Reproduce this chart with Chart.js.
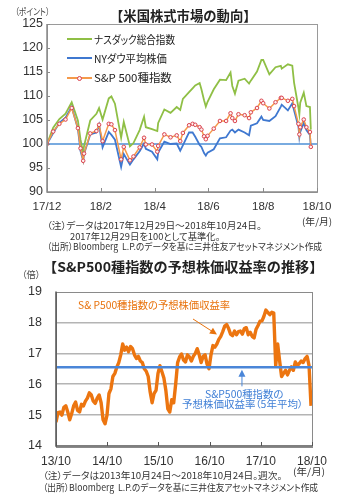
<!DOCTYPE html>
<html><head><meta charset="utf-8">
<script src="https://cdn.jsdelivr.net/npm/chart.js@4.4.1/dist/chart.umd.min.js"></script>
<style>
body{margin:0;background:#fff;}
#wrap{position:relative;width:351px;height:499px;overflow:hidden;font-family:"Noto Sans CJK JP","Noto Sans",sans-serif;}
.t{position:absolute;white-space:nowrap;line-height:1;font-feature-settings:"palt";transform-origin:0 50%;}
.k{position:absolute;}
canvas{position:absolute;left:0;}
</style></head><body><div id="wrap">
<canvas id="c1" width="351" height="215" style="top:0px"></canvas>
<canvas id="c2" width="351" height="200" style="top:270px"></canvas>

<div class="t" data-x="15" data-cy="11.7" data-w="35" style="font-size:9.5px;color:#444">（ポイント）</div>
<div class="t" data-x="110" data-cy="16" data-w="147" style="font-size:13.5px;font-weight:bold;color:#222;font-feature-settings:normal">【米国株式市場の動向】</div>

<div class="k" style="left:67px;top:38px;width:25px;height:2px;background:#8fbf45"></div>
<div class="k" style="left:67px;top:57px;width:25px;height:2px;background:#3f78d0"></div>
<div class="k" style="left:67px;top:77px;width:25px;height:2px;background:#f59a4a"></div>
<div class="k" style="left:77px;top:75.5px;width:3px;height:3px;border:1px solid #d9434f;border-radius:50%;background:#fff0ee"></div>
<div class="t" data-x="94" data-cy="39" data-w="81" style="font-size:11px;color:#222">ナスダック総合指数</div>
<div class="t" data-x="94" data-cy="58" data-w="73" style="font-size:11px;color:#222">NYダウ平均株価</div>
<div class="t" data-x="94" data-cy="77.7" data-w="78" style="font-size:11px;color:#222">S&amp;P 500種指数</div>

<div class="t" data-x="302" data-cy="221.7" data-w="30" style="font-size:9.5px;color:#333">(年/月)</div>
<div class="t" data-x="46.7" data-cy="226" data-w="215" style="font-size:9.5px;color:#333">（注）データは2017年12月29日～2018年10月24日。</div>
<div class="t" data-x="70" data-cy="236.7" data-w="150" style="font-size:9.5px;color:#333">2017年12月29日を100として基準化。</div>
<div class="t" data-x="46.7" data-cy="247.3" data-w="275" style="font-size:9.5px;color:#333">（出所）Bloomberg&nbsp;&nbsp;L.P.のデータを基に三井住友アセットマネジメント作成</div>

<div class="t" data-x="43.3" data-cy="266.7" data-w="280" style="font-size:13.5px;font-weight:bold;color:#222;font-feature-settings:normal">【S&amp;P500種指数の予想株価収益率の推移】</div>
<div class="t" data-x="21.7" data-cy="275" data-w="18.3" style="font-size:9.5px;color:#444">（倍）</div>
<div class="t" data-x="78.3" data-cy="305" data-w="152" style="font-size:10.5px;color:#e8720c">S&amp; P500種指数の予想株価収益率</div>
<div class="t" data-x="205" data-cy="394" data-w="78" style="font-size:10px;color:#3f7fd6">S&amp;P500種指数の</div>
<div class="t" data-x="181.7" data-cy="404.3" data-w="121.6" style="font-size:10px;color:#3f7fd6">予想株価収益率（5年平均）</div>

<div class="t" data-x="293" data-cy="472.3" data-w="32" style="font-size:9.5px;color:#333">(年/月)</div>
<div class="t" data-x="43" data-cy="476" data-w="239" style="font-size:9.5px;color:#333">（注）データは2013年10月24日～2018年10月24日。週次。</div>
<div class="t" data-x="43" data-cy="488.3" data-w="275" style="font-size:9.5px;color:#333">（出所）Bloomberg&nbsp;&nbsp;L.P.のデータを基に三井住友アセットマネジメント作成</div>
</div>
<script>
// ---------- Top chart data (days since 2017/12/29, index 2017/12/29 = 100) ----------
const days = [0,7,14,21,28,35,38,41,42,49,56,59,63,70,73,77,84,87,94,98,105,110,112,119,125,126,133,140,147,151,154,161,165,168,173,175,178,180,182,189,196,203,208,210,213,217,224,229,231,238,243,245,252,259,265,266,273,278,280,285,286,287,291,294,298,299];
const nasdaq = [100,103.4,105.2,106.3,108.7,104.9,100.9,98.2,99.6,104.9,106.3,107.5,105.1,109.5,109.9,108.4,101.3,104.6,99.5,100.2,102.9,105.7,103.5,103.1,102.7,104.4,107.2,106.5,107.7,107.1,109.4,110.8,111.6,112.2,112.7,111.4,109.1,107.8,108.8,111.4,113.4,113.3,114.9,112.1,110.5,113.2,113.6,112.6,113.2,115.1,117.5,117.5,114.5,116.0,116.3,115.7,116.6,116.3,112.8,107.5,106.2,108.6,110.7,107.9,107.7,103.0];
const dow = [100,102.3,104.4,105.5,107.7,103.2,98.5,96.5,97.9,102.0,102.4,104.0,99.3,102.5,101.9,100.9,95.2,97.9,95.7,96.8,98.5,100.1,99.0,98.4,96.8,98.2,100.5,100.0,100.1,98.6,99.7,102.4,102.4,101.5,99.8,99.4,98.1,97.6,98.2,98.9,101.2,101.4,102.8,103.0,102.4,103.0,102.4,101.8,103.8,104.3,105.7,105.0,104.8,105.8,107.8,108.2,107.0,108.5,107.0,103.6,101.4,102.5,104.4,102.9,101.9,99.4];
const sp500 = [100,102.6,104.2,105.1,107.5,103.3,99.1,96.5,98.0,102.2,102.7,104.0,100.6,104.2,104.1,102.9,96.8,99.4,96.6,97.4,99.3,101.3,99.9,99.9,98.4,99.6,102.0,101.4,101.8,100.6,102.3,103.9,104.2,104.0,103.5,103.0,101.6,101.0,101.7,103.2,104.8,104.8,106.4,105.4,104.8,106.2,106.0,105.4,106.6,107.5,109.0,108.5,107.4,108.7,109.6,109.6,109.0,109.4,107.9,104.2,102.0,103.5,105.1,103.5,102.5,99.4];
const baseLevel = 100;
const topTickDays = [0,61,122,183,245,306];
const topTickLabels = ['17/12','18/2','18/4','18/6','18/8','18/10'];

// ---------- Bottom chart data (forward P/E, every 2 weeks from 2013/10/24) ----------
const peStepWeeks = 2;
const peValues = [
14.77,15.08,15.1,15.0,15.25,15.3,15.1,14.85,15.05,15.3,
15.42,15.15,15.1,15.35,15.3,15.45,15.55,15.72,15.65,15.45,
15.38,15.55,15.65,15.4,14.85,14.72,15.0,15.7,15.85,16.25,
16.35,16.55,16.7,16.95,17.3,17.1,17.2,17.05,17.22,17.15,
16.95,16.83,16.9,16.75,16.7,16.5,16.42,16.25,15.75,15.4,
15.7,15.8,16.35,16.6,16.4,16.2,15.8,15.2,15.1,15.5,
15.4,16.0,16.7,16.88,16.98,16.78,16.72,16.95,16.88,16.75,
16.9,17.0,17.15,16.95,16.7,16.9,16.95,16.65,16.5,16.95,
17.25,17.2,17.3,17.45,17.55,17.7,17.88,17.93,17.8,17.62,
17.57,17.72,17.6,17.7,17.72,17.62,17.8,17.83,17.6,17.68,
17.55,17.5,17.78,17.9,18.04,18.05,18.2,18.4,18.32,18.25,
18.33,18.3,16.6,17.3,16.75,16.25,16.35,16.45,16.3,16.45,
16.56,16.45,16.72,16.6,16.67,16.75,16.7,16.83,16.9,16.6,
15.3];
const peAvg5y = 16.55;
const peTotalWeeks = 261;
const botTickWeeks = [0,52.2,104.4,156.6,208.8,261];
const botTickLabels = ['13/10','14/10','15/10','16/10','17/10','18/10'];
// annotation arrows in data coordinates [week, P/E]
const peArrows = [
  {from:[139.7,18.11], to:[164.1,17.61], color:'#e8720c'},
  {from:[189.6,15.93], to:[189.6,16.47], color:'#4a86d8'}
];

const tickFont = {family:"'Liberation Sans', Arial, sans-serif", size:12};

const framePlugin = {
  id:'frame',
  afterDatasetsDraw(chart, args, o){
    const {ctx, chartArea:a, scales} = chart;
    ctx.save();
    ctx.strokeStyle = o.color; ctx.lineWidth = 1;
    ctx.strokeRect(Math.round(a.left)+0.5, Math.round(a.top)+0.5, Math.round(a.right-a.left), Math.round(a.bottom-a.top));
    ctx.strokeStyle = o.axisColor; ctx.lineWidth = 1.5;
    ctx.beginPath();
    ctx.moveTo(a.left, a.top); ctx.lineTo(a.left, a.bottom); ctx.lineTo(a.right, a.bottom);
    ctx.stroke();
    ctx.lineWidth = 1;
    if (o.xTicks) {
      scales.x.ticks.forEach(t => {
        const x = Math.round(scales.x.getPixelForValue(t.value))+0.5;
        ctx.beginPath(); ctx.moveTo(x, a.bottom); ctx.lineTo(x, a.bottom-4); ctx.stroke();
      });
    }
    if (o.yTicks) {
      scales.y.ticks.forEach(t => {
        const y = Math.round(scales.y.getPixelForValue(t.value))+0.5;
        ctx.beginPath(); ctx.moveTo(a.left, y); ctx.lineTo(a.left+3, y); ctx.stroke();
      });
    }
    ctx.restore();
  }
};

const arrowPlugin = {
  id:'arrows',
  afterDatasetsDraw(chart, args, o){
    if (!o.items) return;
    const {ctx, scales} = chart;
    ctx.save();
    o.items.forEach(it => {
      const x1 = scales.x.getPixelForValue(it.from[0]), y1 = scales.y.getPixelForValue(it.from[1]);
      const x2 = scales.x.getPixelForValue(it.to[0]), y2 = scales.y.getPixelForValue(it.to[1]);
      const ang = Math.atan2(y2-y1, x2-x1);
      ctx.strokeStyle = it.color; ctx.fillStyle = it.color; ctx.lineWidth = 1;
      ctx.beginPath(); ctx.moveTo(x1,y1); ctx.lineTo(x2 - 5*Math.cos(ang), y2 - 5*Math.sin(ang)); ctx.stroke();
      ctx.beginPath();
      ctx.moveTo(x2, y2);
      ctx.lineTo(x2 - 7*Math.cos(ang) + 3.5*Math.sin(ang), y2 - 7*Math.sin(ang) - 3.5*Math.cos(ang));
      ctx.lineTo(x2 - 7*Math.cos(ang) - 3.5*Math.sin(ang), y2 - 7*Math.sin(ang) + 3.5*Math.cos(ang));
      ctx.closePath(); ctx.fill();
    });
    ctx.restore();
  }
};

const xy = (xs, ys) => ys.map((v,i) => ({x:xs[i], y:v}));

new Chart(document.getElementById('c1'), {
  type:'line',
  data:{datasets:[
    {label:'S&P 500種指数', data:xy(days, sp500), borderColor:'#f59a4a', borderWidth:1.5,
     pointRadius:1.8, pointBorderWidth:1, pointBorderColor:'#d9434f', pointBackgroundColor:'#fff0ee', order:0},
    {label:'NYダウ平均株価', data:xy(days, dow), borderColor:'#3f78d0', borderWidth:1.8, pointRadius:0, order:1},
    {label:'ナスダック総合指数', data:xy(days, nasdaq), borderColor:'#8fbf45', borderWidth:1.8, pointRadius:0, order:2},
    {label:'base', data:[{x:topTickDays[0], y:baseLevel},{x:topTickDays[topTickDays.length-1], y:baseLevel}],
     borderColor:'#4d8fd6', borderWidth:1.5, pointRadius:0, order:3}
  ]},
  options:{
    responsive:false, devicePixelRatio:1, animation:false,
    layout:{padding:{left:0, top:24, right:34, bottom:0}},
    elements:{line:{tension:0}},
    plugins:{legend:{display:false}, tooltip:{enabled:false},
      frame:{color:'#9a9a9a', axisColor:'#8a8a8a', xTicks:true, yTicks:true}},
    scales:{
      x:{type:'linear', min:topTickDays[0], max:topTickDays[topTickDays.length-1],
         afterBuildTicks:s=>{ s.ticks = topTickDays.map(v=>({value:v})); },
         afterFit:s=>{ s.height = 23; },
         grid:{display:false, drawTicks:false}, border:{display:false},
         ticks:{autoSkip:false, maxRotation:0, padding:8, color:'#333', font:{...tickFont, size:11.5},
                callback:(v,i)=>topTickLabels[i]}},
      y:{min:90, max:125, afterFit:s=>{ s.width = 47; },
         grid:{display:false, drawTicks:false}, border:{display:false},
         ticks:{stepSize:5, padding:4, color:'#333', font:{...tickFont, size:12.5}}}
    }
  },
  plugins:[framePlugin]
});

new Chart(document.getElementById('c2'), {
  type:'line',
  data:{datasets:[
    {label:'avg', data:[{x:0, y:peAvg5y},{x:peTotalWeeks, y:peAvg5y}], borderColor:'#4a86d8', borderWidth:2.5, pointRadius:0, order:0},
    {label:'PER', data:peValues.map((v,i)=>({x:i*peStepWeeks, y:v})), borderColor:'#ec7510', borderWidth:3.4,
     pointRadius:0, order:1, borderJoinStyle:'round'}
  ]},
  options:{
    responsive:false, devicePixelRatio:1, animation:false,
    layout:{padding:{left:0, top:18, right:39, bottom:0}},
    elements:{line:{tension:0}},
    plugins:{legend:{display:false}, tooltip:{enabled:false},
      frame:{color:'#8a8a8a', axisColor:'#555', xTicks:true, yTicks:false},
      arrows:{items:peArrows}},
    scales:{
      x:{type:'linear', min:0, max:peTotalWeeks,
         afterBuildTicks:s=>{ s.ticks = botTickWeeks.map(v=>({value:v})); },
         afterFit:s=>{ s.height = 24; },
         grid:{display:false, drawTicks:false}, border:{display:false},
         ticks:{autoSkip:false, maxRotation:0, padding:8, color:'#333', font:{...tickFont, size:12},
                callback:(v,i)=>botTickLabels[i]}},
      y:{min:14, max:19, afterFit:s=>{ s.width = 56; },
         grid:{drawTicks:false, lineWidth:1.5,
               color:c=>(c.tick && (c.tick.value===14 || c.tick.value===19)) ? 'rgba(0,0,0,0)' : '#b4b4b4'},
         border:{display:false},
         ticks:{stepSize:1, padding:14, color:'#333', font:{...tickFont, size:12.5}}}
    }
  },
  plugins:[framePlugin, arrowPlugin]
});

function fitTexts(){
  document.querySelectorAll('.t').forEach(el=>{
    el.style.transform = 'none';
    el.style.left = el.dataset.x + 'px';
    const h = el.offsetHeight, w = el.offsetWidth;
    el.style.top = (parseFloat(el.dataset.cy) - h/2) + 'px';
    const tw = parseFloat(el.dataset.w);
    if (w > 0) el.style.transform = 'scaleX(' + (tw/w).toFixed(3) + ')';
  });
}
fitTexts();
if (document.fonts && document.fonts.ready) document.fonts.ready.then(fitTexts);
</script>
</body></html>
